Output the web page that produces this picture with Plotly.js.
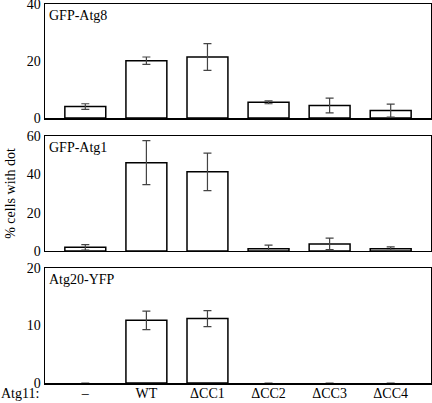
<!DOCTYPE html>
<html><head><meta charset="utf-8">
<script src="https://cdn.plot.ly/plotly-3.0.1.min.js"></script>
<style>body{margin:0;padding:0;background:#fff}#c{width:432px;height:403px}</style>
</head><body><div id="c"></div>
<script>
const categories = ["–", "WT", "ΔCC1", "ΔCC2", "ΔCC3", "ΔCC4"];
const panelNames = ["GFP-Atg8", "GFP-Atg1", "Atg20-YFP"];
const atg8Values = [4, 20.1, 21.4, 5.5, 4.4, 2.6];
const atg8Errors = [1.0, 1.3, 4.7, 0.5, 2.6, 2.3];
const atg1Values = [1.9, 46.1, 41.3, 1.2, 3.7, 1.2];
const atg1Errors = [1.4, 11.5, 9.8, 1.9, 3.0, 0.9];
const atg20Values = [0, 10.9, 11.2, 0, 0, 0];
const atg20Errors = [0, 1.6, 1.4, 0, 0, 0];
const yTicks1 = [0, 20, 40];
const yTicks2 = [0, 20, 40, 60];
const yTicks3 = [0, 10, 20];
const xLeadLabel = "Atg11:";
const yTitle = "% cells with dot";

const font = {family: "Liberation Serif, Times New Roman, serif", size: 14, color: "#000"};
function barTrace(vals, errs, xa, ya) {
  return {
    type: "bar", x: categories, y: vals, xaxis: xa, yaxis: ya, width: 0.67,
    marker: {color: "#fff", line: {color: "#000", width: vals.map(v => v > 0 ? 1.5 : 0)}},
    error_y: {type: "data", array: errs, visible: true, color: "#444", thickness: 1.2, width: 4},
    showlegend: false, hoverinfo: "skip"
  };
}
const data = [
  barTrace(atg8Values, atg8Errors, "x", "y"),
  barTrace(atg1Values, atg1Errors, "x2", "y2"),
  barTrace(atg20Values, atg20Errors, "x3", "y3")
];
const xbase = {type: "category", range: [-0.66, 5.66], showline: true, mirror: true, linecolor: "#000", linewidth: 1.5, ticks: "", showgrid: false, zeroline: false, fixedrange: true, tickfont: font};
const ybase = (ticks, domain) => ({domain: domain, range: [0, ticks[ticks.length-1]], tickvals: ticks, showline: true, mirror: true, linecolor: "#000", linewidth: 1.5, ticks: "", showgrid: false, zeroline: false, tickfont: font, ticklabelstandoff: 0, ticklabeloverflow: "allow"});
const layout = {
  width: 432, height: 403,
  margin: {l: 45, r: 1, t: 4, b: 20, pad: 0},
  paper_bgcolor: "#fff", plot_bgcolor: "#fff",
  font: font,
  xaxis: Object.assign({}, xbase, {anchor: "y", showticklabels: false}),
  xaxis2: Object.assign({}, xbase, {anchor: "y2", showticklabels: false}),
  xaxis3: Object.assign({}, xbase, {anchor: "y3", showticklabels: true, ticklabelstandoff: -3}),
  yaxis: ybase(yTicks1, [0.6992, 1]),
  yaxis2: Object.assign(ybase(yTicks2, [0.3483, 0.6517]), {title: {text: yTitle, font: font, standoff: 8}}),
  yaxis3: ybase(yTicks3, [0, 0.3034]),
  annotations: [
    {text: panelNames[0], xref: "x domain", yref: "y domain", x: 0.005, y: 0.985, xanchor: "left", yanchor: "top", showarrow: false, font: font},
    {text: panelNames[1], xref: "x2 domain", yref: "y2 domain", x: 0.005, y: 0.985, xanchor: "left", yanchor: "top", showarrow: false, font: font},
    {text: panelNames[2], xref: "x3 domain", yref: "y3 domain", x: 0.005, y: 0.985, xanchor: "left", yanchor: "top", showarrow: false, font: font},
    {text: xLeadLabel, xref: "paper", yref: "paper", x: -0.1166, y: -0.029, xanchor: "left", yanchor: "middle", showarrow: false, borderpad: 0, font: font}
  ]
};
Plotly.newPlot("c", data, layout, {displayModeBar: false, staticPlot: true});
</script></body></html>
